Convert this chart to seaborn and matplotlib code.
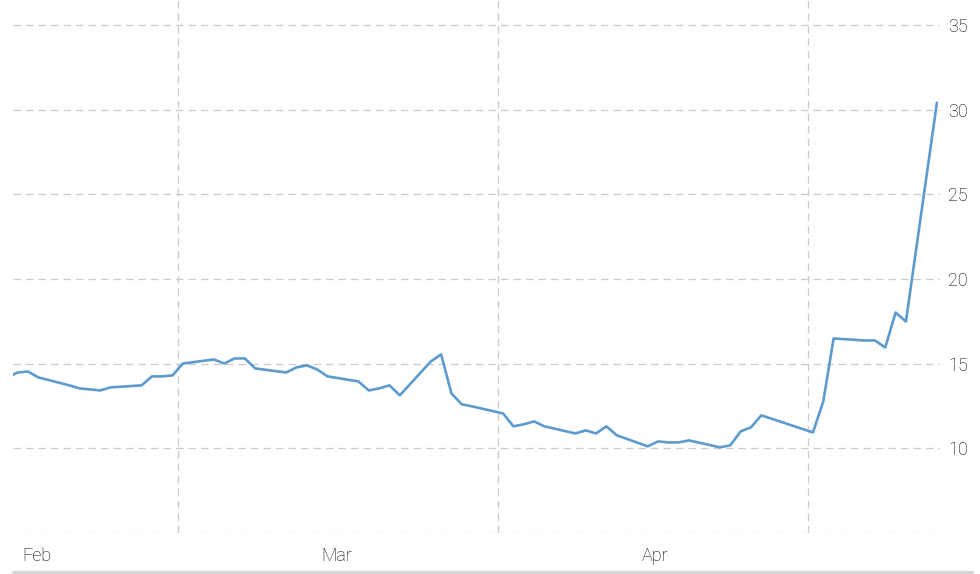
import matplotlib
matplotlib.use("Agg")
import matplotlib.pyplot as plt
import matplotlib.dates as mdates
from matplotlib.lines import Line2D
import numpy as np
import pandas as pd
import seaborn as sns

# -------------data-------------
dates = [
    "2024-01-30", "2024-01-31", "2024-02-01", "2024-02-02",
    "2024-02-05", "2024-02-06", "2024-02-07", "2024-02-08", "2024-02-09",
    "2024-02-12", "2024-02-13", "2024-02-14", "2024-02-15", "2024-02-16",
    "2024-02-19", "2024-02-20", "2024-02-21", "2024-02-22", "2024-02-23",
    "2024-02-26", "2024-02-27", "2024-02-28", "2024-02-29", "2024-03-01",
    "2024-03-04", "2024-03-05", "2024-03-06", "2024-03-07", "2024-03-08",
    "2024-03-11", "2024-03-12", "2024-03-13", "2024-03-14", "2024-03-15",
    "2024-03-18", "2024-03-19", "2024-03-20", "2024-03-21", "2024-03-22",
    "2024-03-25", "2024-03-26", "2024-03-27", "2024-03-28", "2024-03-29",
    "2024-04-01", "2024-04-02", "2024-04-03", "2024-04-04", "2024-04-05",
    "2024-04-08", "2024-04-09", "2024-04-10", "2024-04-11", "2024-04-12",
    "2024-04-17", "2024-04-18", "2024-04-19",
    "2024-04-22", "2024-04-23", "2024-04-24", "2024-04-25", "2024-04-26",
    "2024-04-29",
]
values = [
    14.19, 14.48, 14.54, 14.19,
    13.72, 13.54, 13.48, 13.42, 13.60,
    13.72, 14.25, 14.25, 14.31, 15.01,
    15.25, 15.01, 15.31, 15.31, 14.72,
    14.48, 14.78, 14.90, 14.66, 14.25,
    13.95, 13.42, 13.54, 13.72, 13.13,
    15.13, 15.55, 13.24, 12.60, 12.48,
    12.06, 11.30, 11.42, 11.59, 11.30,
    10.88, 11.06, 10.88, 11.30, 10.77,
    10.12, 10.41, 10.35, 10.35, 10.47,
    10.06, 10.18, 11.00, 11.24, 11.95,
    10.94, 12.77, 16.49,
    16.37, 16.37, 15.96, 18.02, 17.49,
    30.41,
]
month_ticks = ["2024-02-01", "2024-03-01", "2024-04-01"]
month_labels = ["Feb", "Mar", "Apr"]
vgrid_dates = ["2024-02-15 12:00", "2024-03-17 12:00", "2024-04-16 12:00"]
y_ticks = [5, 10, 15, 20, 25, 30, 35]
y_labels = ["", "10", "15", "20", "25", "30", "35"]

# -------------plot-------------
sns.set_theme(style="white")
plt.rcParams["font.family"] = ["Roboto", "DejaVu Sans"]

df = pd.DataFrame({"date": pd.to_datetime(dates), "value": values})

fig = plt.figure(figsize=(9.8, 5.74), dpi=100)
ax = fig.add_axes([13 / 980, 41 / 574, 927 / 980, 533 / 574])

sns.lineplot(data=df, x="date", y="value", ax=ax, color="#5d9bcf",
             linewidth=1.9, zorder=3)

base = pd.Timestamp("2024-02-01")
ax.set_xlim(base + pd.Timedelta(days=-1.45), base + pd.Timedelta(days=88.3))
ax.set_ylim(5, 36.48)

# month labels sit a little left of the month start
label_pos = pd.to_datetime(month_ticks) - pd.Timedelta(hours=14)
ax.set_xticks(mdates.date2num(label_pos))
ax.set_xticklabels(month_labels, fontsize=13, color="#000000", ha="left",
                   fontweight="light")
ax.xaxis.set_minor_locator(matplotlib.ticker.FixedLocator(
    mdates.date2num(pd.to_datetime(vgrid_dates))))

ax.yaxis.tick_right()
ax.set_yticks(y_ticks)
ax.set_yticklabels(y_labels, fontsize=13, color="#000000", fontweight="light")
ax.tick_params(axis="y", length=0, pad=6)
ax.tick_params(axis="x", which="both", length=0, pad=10)

ax.grid(False)
ax.grid(True, axis="y", which="major", color="#cccccc", linestyle=(0, (6, 4)),
        linewidth=0.9)
ax.grid(True, axis="x", which="minor", color="#cccccc", linestyle=(0, (6, 4)),
        linewidth=0.9)

for s in ["top", "right", "left", "bottom"]:
    ax.spines[s].set_visible(False)
ax.set_xlabel("")
ax.set_ylabel("")

# bottom border line
fig.add_artist(Line2D([13 / 980, 972 / 980], [2.5 / 574, 2.5 / 574],
                      color="#d6d6d6", linewidth=2.2, transform=fig.transFigure))

fig.savefig("out.png", dpi=100)
